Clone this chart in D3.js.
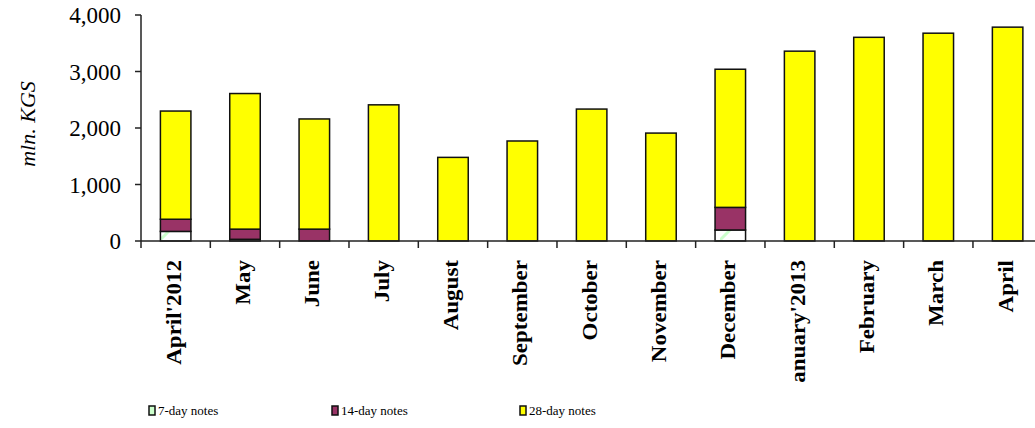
<!DOCTYPE html>
<meta charset="utf-8">
<script src="https://cdn.jsdelivr.net/npm/d3@7"></script>
<style>
    body { margin: 0; background: #fff; }
    svg { font-family: "Liberation Serif", "Times New Roman", serif; }
</style>
<svg width="1035" height="428"></svg>
<script>
    // data (mln. KGS)
    var months = ["April'2012", "May", "June", "July", "August", "September", "October",
        "November", "December", "January'2013", "February", "March", "April"];
    var notes7 = [170, 30, 0, 0, 0, 0, 0, 0, 195, 0, 0, 0, 0];
    var notes14 = [215, 180, 210, 0, 0, 0, 0, 0, 400, 0, 0, 0, 0];
    var notes28 = [1915, 2400, 1950, 2410, 1480, 1770, 2335, 1910, 2445, 3360, 3605, 3678, 3785];
    var seriesNames = ["7-day notes", "14-day notes", "28-day notes"];
    var yTicks = [0, 1000, 2000, 3000, 4000];

    var svg = d3.select("svg");
    var colors = ["url(#hatch7)", "#993366", "#ffff00"];

    var defs = svg.append("defs");
    var pat = defs.append("pattern")
        .attr("id", "hatch7")
        .attr("patternUnits", "userSpaceOnUse")
        .attr("width", 40).attr("height", 40);
    pat.append("rect").attr("width", 40).attr("height", 40).attr("fill", "#fff");
    pat.append("line")
        .attr("x1", 0).attr("y1", 40).attr("x2", 40).attr("y2", 0)
        .attr("stroke", "#ccffcc").attr("stroke-width", 3);

    // the original chart cuts the long labels at the bottom
    defs.append("clipPath").attr("id", "labelClip")
        .append("rect").attr("x", 0).attr("y", 0).attr("width", 1035).attr("height", 383);

    var left = 141, step = 69.33;
    var x = d3.scaleBand()
        .domain(months)
        .range([left, left + step * months.length])
        .padding(0);
    var barW = x.bandwidth() * 0.44;

    var y = d3.scaleLinear().domain([0, 4000]).range([241, 15]);

    // stack data
    var rows = months.map(function (m, i) {
        return {month: m, s0: notes7[i], s1: notes14[i], s2: notes28[i]};
    });
    var stack = d3.stack().keys(["s0", "s1", "s2"]);
    var layers = stack(rows);

    var bars = svg.append("g");
    layers.forEach(function (layer, k) {
        bars.append("g")
            .selectAll("rect")
            .data(layer.filter(function (d) { return d[1] - d[0] > 0; }))
            .enter().append("rect")
            .attr("x", function (d) { return x(d.data.month) + (x.bandwidth() - barW) / 2; })
            .attr("y", function (d) { return y(d[1]); })
            .attr("width", barW)
            .attr("height", function (d) { return y(d[0]) - y(d[1]); })
            .attr("fill", colors[k])
            .attr("stroke", "#111")
            .attr("stroke-width", 1.5);
    });

    // y axis
    var yAxis = svg.append("g");
    yAxis.append("line")
        .attr("x1", left).attr("x2", left)
        .attr("y1", y(4000)).attr("y2", y(0))
        .attr("stroke", "#222").attr("stroke-width", 1.5);
    yAxis.selectAll(".tk")
        .data(yTicks)
        .enter().append("line")
        .attr("x1", left - 6).attr("x2", left)
        .attr("y1", function (d) { return y(d); })
        .attr("y2", function (d) { return y(d); })
        .attr("stroke", "#222").attr("stroke-width", 1.5);
    yAxis.selectAll("text")
        .data(yTicks)
        .enter().append("text")
        .attr("x", left - 20)
        .attr("y", function (d) { return y(d); })
        .attr("dy", "0.35em")
        .attr("text-anchor", "end")
        .style("font-size", "23px")
        .text(d3.format(","));

    svg.append("text")
        .attr("transform", "translate(27,124) rotate(-90)")
        .attr("dy", "0.35em")
        .attr("text-anchor", "middle")
        .style("font-size", "22px")
        .style("font-style", "italic")
        .text("mln. KGS");

    // x axis
    var xAxis = svg.append("g");
    xAxis.append("line")
        .attr("x1", left).attr("x2", 1035)
        .attr("y1", y(0)).attr("y2", y(0))
        .attr("stroke", "#222").attr("stroke-width", 1.5);
    xAxis.selectAll(".tk")
        .data(months)
        .enter().append("line")
        .attr("x1", function (d) { return x(d); })
        .attr("x2", function (d) { return x(d); })
        .attr("y1", y(0)).attr("y2", y(0) + 7)
        .attr("stroke", "#222").attr("stroke-width", 1.5);

    svg.append("g")
        .attr("clip-path", "url(#labelClip)")
        .selectAll("text")
        .data(months)
        .enter().append("text")
        .attr("transform", function (d) {
            return "translate(" + (x(d) + x.bandwidth() / 2 - 2) + ",260) rotate(-90) scale(1.15,1)";
        })
        .attr("dy", "0.35em")
        .attr("text-anchor", "end")
        .style("font-size", "20px")
        .style("font-weight", "bold")
        .text(function (d) { return d; });

    // legend
    var legX = [149, 332, 520];
    var legend = svg.append("g");
    var items = legend.selectAll("g")
        .data(seriesNames)
        .enter().append("g")
        .attr("transform", function (d, i) { return "translate(" + legX[i] + ",406)"; });
    items.append("rect")
        .attr("width", 6).attr("height", 9)
        .attr("fill", function (d, i) { return i === 0 ? "#ccffcc" : colors[i]; })
        .attr("stroke", "#111").attr("stroke-width", 1.5);
    items.append("text")
        .attr("x", 9).attr("y", 4.5)
        .attr("dy", "0.35em")
        .style("font-size", "13px")
        .text(function (d) { return d; });
</script>
